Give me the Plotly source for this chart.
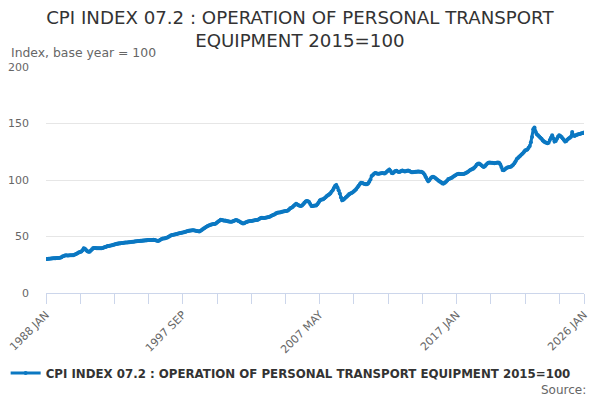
import plotly.graph_objects as go

# Monthly index values (1988 JAN .. 2026 JAN)
months = ["JAN", "FEB", "MAR", "APR", "MAY", "JUN",
          "JUL", "AUG", "SEP", "OCT", "NOV", "DEC"]
years = list(range(1988, 2027))

values_by_year = {
    1988: [30.0, 30.1, 30.2, 30.4, 30.6, 30.6, 30.7, 30.8, 30.8, 30.9, 31.0, 31.0],
    1989: [31.3, 31.6, 32.2, 32.8, 33.2, 33.4, 33.2, 33.1, 33.3, 33.4, 33.5, 33.5],
    1990: [33.8, 34.2, 34.8, 35.4, 36.0, 36.3, 36.8, 37.8, 39.5, 39.2, 38.0, 37.0],
    1991: [36.5, 36.6, 37.5, 38.8, 39.8, 39.9, 39.9, 39.7, 39.6, 39.5, 39.5, 39.5],
    1992: [39.8, 40.2, 40.6, 41.0, 41.5, 41.6, 41.8, 42.0, 42.2, 42.6, 43.0, 43.3],
    1993: [43.5, 43.8, 44.0, 44.1, 44.3, 44.3, 44.5, 44.6, 44.7, 44.8, 44.9, 45.0],
    1994: [45.2, 45.3, 45.4, 45.6, 45.8, 45.9, 46.0, 46.1, 46.2, 46.3, 46.5, 46.5],
    1995: [46.6, 46.7, 46.8, 46.9, 46.9, 47.0, 47.0, 47.1, 47.0, 46.6, 46.2, 46.0],
    1996: [46.5, 47.2, 47.8, 48.2, 48.3, 48.5, 48.8, 49.2, 49.8, 50.5, 51.0, 51.3],
    1997: [51.5, 51.8, 52.0, 52.3, 52.6, 52.9, 53.2, 53.4, 53.5, 53.8, 54.2, 54.5],
    1998: [54.8, 55.0, 55.2, 55.4, 55.5, 55.5, 55.3, 55.0, 54.8, 54.6, 54.5, 55.0],
    1999: [55.8, 56.6, 57.4, 58.0, 58.6, 59.2, 59.7, 60.2, 60.6, 60.8, 61.0, 61.0],
    2000: [61.6, 62.3, 63.2, 63.9, 64.8, 64.6, 64.3, 64.0, 64.2, 63.8, 63.4, 63.2],
    2001: [63.1, 63.0, 63.3, 63.8, 64.2, 64.5, 64.3, 63.8, 63.2, 62.5, 61.9, 61.5],
    2002: [61.8, 62.3, 62.8, 63.3, 63.6, 63.8, 63.8, 63.9, 64.1, 64.3, 64.5, 64.6],
    2003: [65.0, 65.6, 66.3, 66.5, 66.4, 66.3, 66.5, 66.8, 67.0, 67.3, 67.8, 68.3],
    2004: [68.8, 69.2, 69.7, 70.5, 71.0, 71.2, 71.2, 71.5, 71.8, 72.2, 72.4, 72.5],
    2005: [72.5, 73.0, 74.0, 75.0, 75.5, 76.0, 77.2, 78.2, 79.0, 78.3, 77.6, 77.2],
    2006: [77.0, 77.5, 78.5, 79.8, 81.0, 81.5, 81.3, 80.5, 78.8, 77.0, 77.0, 77.3],
    2007: [77.5, 77.5, 78.5, 80.0, 81.8, 82.5, 82.8, 83.0, 83.8, 84.8, 85.8, 86.5],
    2008: [87.2, 88.0, 89.5, 91.0, 93.0, 94.8, 95.5, 93.5, 91.0, 88.0, 84.5, 82.0],
    2009: [82.5, 83.5, 84.5, 85.5, 86.5, 87.5, 88.0, 88.6, 89.2, 90.0, 91.0, 92.0],
    2010: [93.5, 95.0, 96.5, 97.6, 97.4, 97.0, 96.5, 96.3, 96.2, 97.0, 98.5, 100.5],
    2011: [103.5, 104.5, 105.5, 106.3, 106.0, 105.6, 105.5, 105.8, 106.0, 106.2, 105.9, 105.8],
    2012: [106.5, 107.5, 108.5, 109.2, 108.0, 106.2, 106.0, 107.0, 108.0, 108.2, 107.5, 107.0],
    2013: [107.2, 108.0, 108.5, 108.0, 107.5, 107.8, 108.2, 108.4, 108.0, 107.4, 106.8, 106.8],
    2014: [107.0, 107.2, 107.3, 107.5, 107.6, 107.4, 107.2, 106.8, 106.0, 104.5, 102.5, 100.5],
    2015: [99.0, 100.0, 101.5, 102.5, 102.8, 102.5, 101.8, 100.8, 100.0, 99.2, 98.5, 97.8],
    2016: [96.8, 96.8, 97.5, 98.5, 99.5, 100.8, 101.2, 101.5, 102.0, 102.8, 103.6, 104.2],
    2017: [104.8, 105.3, 105.5, 105.4, 105.3, 105.2, 105.4, 105.8, 106.2, 106.8, 107.5, 108.3],
    2018: [109.0, 109.5, 110.0, 110.8, 112.0, 113.5, 114.3, 114.5, 114.0, 113.0, 112.2, 111.5],
    2019: [112.2, 113.5, 114.5, 115.3, 115.5, 115.3, 115.2, 115.0, 114.8, 115.0, 115.3, 115.5],
    2020: [115.2, 114.0, 111.5, 108.8, 108.6, 109.5, 110.5, 111.0, 111.2, 111.5, 111.8, 112.5],
    2021: [113.5, 114.8, 116.5, 118.5, 119.5, 120.5, 121.5, 122.5, 123.5, 124.8, 126.0, 126.5],
    2022: [127.0, 128.5, 130.0, 133.5, 138.0, 145.0, 146.5, 142.5, 140.5, 139.5, 138.5, 137.5],
    2023: [136.5, 135.0, 134.0, 133.5, 133.0, 132.5, 133.0, 135.5, 137.5, 139.5, 137.0, 134.0],
    2024: [134.5, 136.5, 138.5, 139.5, 139.0, 138.0, 136.8, 135.5, 134.0, 134.5, 135.8, 136.8],
    2025: [137.5, 138.3, 142.5, 139.5, 139.0, 139.5, 140.0, 140.5, 140.8, 141.0, 141.3, 141.5],
    2026: [142.0],
}

labels = []
values = []
for y in years:
    for m, v in zip(months, values_by_year[y]):
        labels.append(f"{y} {m}")
        values.append(v)

series_name = "CPI INDEX 07.2 : OPERATION OF PERSONAL TRANSPORT EQUIPMENT 2015=100"
y_ticks = [0, 50, 100, 150, 200]

# ticks every 29 months, a label on every 4th tick, plus the final month
tick_idx = list(range(0, len(labels), 29)) + [len(labels) - 1]
tick_text = [labels[i] if (i % 116 == 0 or i == len(labels) - 1) else "" for i in tick_idx]

font = "DejaVu Sans, Verdana, sans-serif"
blue = "#0b78c2"

fig = go.Figure()
fig.add_trace(go.Scatter(
    x=labels, y=values, mode="lines+markers", name=series_name,
    line=dict(color=blue, width=3),
    marker=dict(color=blue, size=4),
))

# page body has an 8px margin, so the figure is a bit smaller than the window
fig.update_layout(
    width=592, height=392,
    paper_bgcolor="white", plot_bgcolor="white",
    margin=dict(l=38, r=16, t=59, b=107, autoexpand=False),
    font=dict(family=font, color="#666666", size=11),
    title=dict(
        text="CPI INDEX 07.2 : OPERATION OF PERSONAL TRANSPORT<br>EQUIPMENT 2015=100",
        x=0.493, xref="container", xanchor="center",
        y=0.96, yref="container", yanchor="top",
        font=dict(family=font, size=18.2, color="#333333"),
    ),
    showlegend=True,
    legend=dict(
        orientation="h", x=-0.075, xanchor="left", y=-0.354, yanchor="middle",
        font=dict(family=font, size=11.8, color="#333333", weight="bold"),
        itemwidth=30,
    ),
    annotations=[
        dict(text="Index, base year = 100", xref="paper", yref="paper",
             x=0, y=1.066, xshift=-37, xanchor="left", yanchor="middle",
             showarrow=False, font=dict(family=font, size=12.4, color="#666666")),
        dict(text="Source:", xref="paper", yref="paper",
             x=1.0074, y=-0.429, xanchor="right", yanchor="middle",
             showarrow=False, font=dict(family=font, size=12, color="#666666")),
    ],
)

fig.update_xaxes(
    type="category", range=[0, len(labels) - 1], automargin=False,
    tickmode="array", tickvals=[labels[i] for i in tick_idx], ticktext=tick_text,
    tickangle=-45, ticks="outside", ticklen=10, tickcolor="#ccd6eb",
    showline=True, linecolor="#ccd6eb", showgrid=False,
    tickfont=dict(family=font, size=11, color="#666666"),
)
fig.update_yaxes(
    range=[0, 200], tickvals=y_ticks, automargin=False,
    showgrid=True, gridcolor="#e6e6e6", zeroline=False,
    ticklabelstandoff=16,
    tickfont=dict(family=font, size=11, color="#666666"),
)

fig.write_html("out.html")
